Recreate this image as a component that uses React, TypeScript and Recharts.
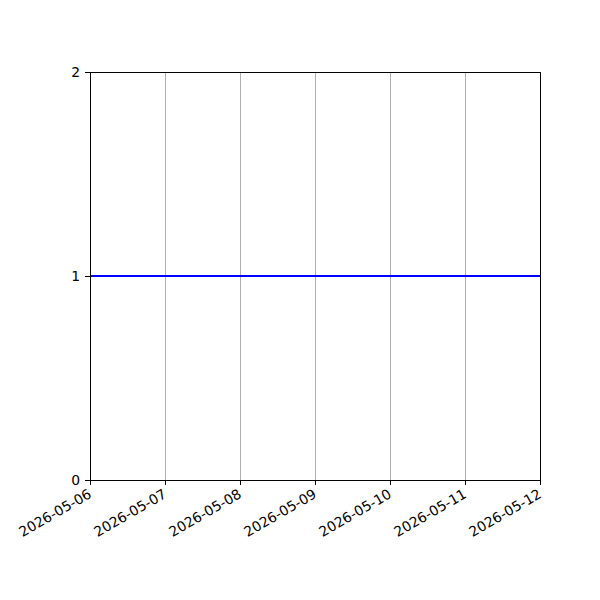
import React from "react";
import { LineChart, Line, XAxis, YAxis, CartesianGrid, ReferenceLine } from "recharts";

const dates = ["2026-05-06", "2026-05-07", "2026-05-08", "2026-05-09", "2026-05-10", "2026-05-11", "2026-05-12"];
const values = [1, 1, 1, 1, 1, 1, 1];
const yTicks = [0, 1, 2];

const data = dates.map((d, i) => ({ date: d, value: values[i] }));

const FONT = "DejaVu Sans, sans-serif";

const DateTick = (props: any) => {
  const { x, y, payload } = props;
  return (
    <g transform={`translate(${x - 2},${y + 2})`}>
      <text
        x={0}
        y={0}
        dy={9}
        textAnchor="end"
        transform="rotate(-30)"
        fontFamily={FONT}
        fontSize={13.9}
        fill="#000"
      >
        {payload.value}
      </text>
    </g>
  );
};

const crisp = { stroke: "#000", strokeWidth: 1, shapeRendering: "crispEdges" } as any;

export default function App() {
  return (
    <div style={{ position: "absolute", left: 0, top: 0, width: 600, height: 600, background: "#fff" }}>
      <LineChart width={600} height={600} data={data} margin={{ top: 72, right: 60, bottom: 0, left: 0 }}>
        <CartesianGrid horizontal={false} vertical={true} stroke="#b0b0b0" strokeWidth={1} shapeRendering="crispEdges" />
        <XAxis
          dataKey="date"
          height={120}
          tick={<DateTick />}
          tickSize={5}
          tickLine={crisp}
          axisLine={crisp}
          interval={0}
        />
        <YAxis
          width={90}
          domain={[0, 2]}
          ticks={yTicks}
          tickSize={5}
          tickMargin={5}
          tick={{ fontFamily: FONT, fontSize: 13.9, fill: "#000" }}
          tickLine={crisp}
          axisLine={crisp}
        />
        <ReferenceLine y={2} stroke="#000" strokeWidth={1} shapeRendering="crispEdges" />
        <ReferenceLine x="2026-05-12" stroke="#000" strokeWidth={1} shapeRendering="crispEdges" />
        <Line type="linear" dataKey="value" stroke="#0000ff" strokeWidth={2} dot={false} isAnimationActive={false} />
      </LineChart>
    </div>
  );
}
